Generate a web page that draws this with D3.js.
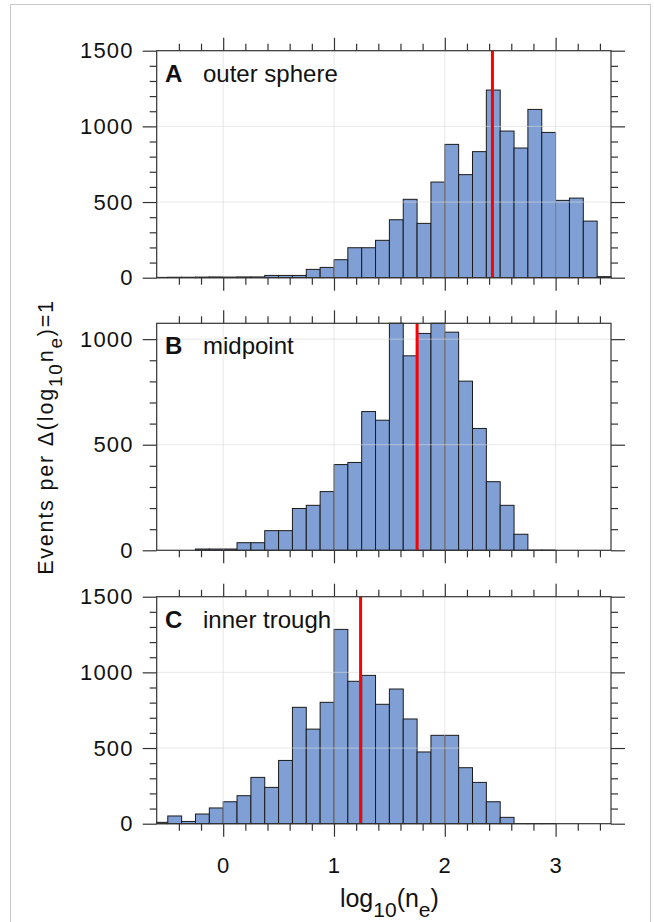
<!DOCTYPE html>
<html>
<head>
<meta charset="utf-8">
<title>Electron density histograms</title>
<script src="https://cdn.jsdelivr.net/npm/d3@7"></script>
<style>
  body { margin: 0; background: #fff; }
  text { font-family: "Liberation Sans", Arial, sans-serif; fill: #111; }
</style>
</head>
<body>
<div id="container"></div>
<script>
  // Histogram bins: 0.125 wide in log10(ne), first bin starts at -0.625
  const binStart = -0.625;
  const binWidth = 0.125;

  const countsA = [2, 3, 3, 4, 5, 4, 5, 5, 15, 15, 15, 55, 68, 119, 198, 198, 247,
    383, 518, 359, 632, 881, 681, 833, 1240, 969, 857, 1112, 960, 511, 526, 374, 7];
  const countsB = [0, 0, 0, 6, 6, 6, 36, 36, 93, 93, 198, 213, 278, 406, 416, 657, 616,
    1150, 921, 1027, 1120, 1033, 801, 577, 325, 213, 76, 1, 1, 0, 0, 0, 0];
  const countsC = [9, 51, 15, 64, 104, 145, 185, 306, 240, 418, 769, 625, 802, 1284, 941, 980, 789,
    890, 692, 474, 584, 584, 370, 273, 145, 42, 1, 1, 1, 0, 0, 0, 0];

  const panelLetters = ["A", "B", "C"];
  const panelNames = ["outer sphere", "midpoint", "inner trough"];
  const medians = [2.43, 1.75, 1.24];
  const yMaxes = [1500, 1075, 1500];
  const yMajor = [[0, 500, 1000, 1500], [0, 500, 1000], [0, 500, 1000, 1500]];
  const xMajor = [0, 1, 2, 3];
  const xMinor = [-0.4, -0.2, 0.2, 0.4, 0.6, 0.8, 1.2, 1.4, 1.6, 1.8, 2.2, 2.4, 2.6, 2.8, 3.2, 3.4];

  const allCounts = [countsA, countsB, countsC];

  // Layout
  const width = 654;
  const height = 922;
  const marginLeft = 156.7;
  const marginRight = 611;
  const panelTops = [50.7, 323.3, 596.7];
  const panelHeight = 227;

  const svg = d3.create("svg")
      .attr("width", width)
      .attr("height", height);

  // Outer frame
  svg.append("rect")
      .attr("x", 10.5).attr("y", 4.5)
      .attr("width", 640).attr("height", 930)
      .attr("fill", "none")
      .attr("stroke", "#c8c8c8");

  const x = d3.scaleLinear()
      .domain([-0.6, 3.5])
      .range([marginLeft, marginRight])
      .clamp(true);

  allCounts.forEach((counts, p) => {
    const top = panelTops[p];
    const bottom = top + panelHeight;
    const g = svg.append("g");

    const y = d3.scaleLinear()
        .domain([0, yMaxes[p]])
        .range([bottom, top])
        .clamp(true);

    const yMinor = d3.range(0, yMaxes[p] + 1, 100).filter(v => v % 500 !== 0);

    // Bars
    g.append("g")
        .selectAll("rect")
        .data(counts)
        .join("rect")
        .attr("x", (d, i) => x(binStart + i * binWidth))
        .attr("width", (d, i) => x(binStart + (i + 1) * binWidth) - x(binStart + i * binWidth))
        .attr("y", d => y(d))
        .attr("height", d => bottom - y(d))
        .attr("fill", "#80a0d5")
        .attr("stroke", "#1a1a1a")
        .attr("stroke-width", 1);

    // Grid (drawn on top, faint)
    const grid = g.append("g")
        .attr("stroke", "#d8d8d8")
        .attr("stroke-opacity", 0.6)
        .attr("stroke-width", 1);
    grid.selectAll(".gx")
        .data(xMajor)
        .join("line")
        .attr("x1", d => x(d)).attr("x2", d => x(d))
        .attr("y1", top).attr("y2", bottom);
    grid.selectAll(".gy")
        .data(yMajor[p].filter(v => v > 0 && v < yMaxes[p]))
        .join("line")
        .attr("x1", marginLeft).attr("x2", marginRight)
        .attr("y1", d => y(d)).attr("y2", d => y(d));

    // Median line
    g.append("line")
        .attr("x1", x(medians[p])).attr("x2", x(medians[p]))
        .attr("y1", top).attr("y2", bottom)
        .attr("stroke", "#ff0000")
        .attr("stroke-width", 3);

    // Axes
    const styleAxis = sel => {
      sel.select(".domain").remove();
      sel.selectAll(".tick line").attr("stroke", "#333").attr("stroke-width", 1.2);
      sel.selectAll("text").attr("fill", "#111").attr("letter-spacing", 1.2);
    };

    g.append("g")
        .attr("transform", `translate(${marginLeft},0)`)
        .call(d3.axisLeft(y).tickValues(yMajor[p]).tickSize(14).tickPadding(9).tickFormat(d3.format("d")))
        .call(styleAxis)
        .attr("font-size", 22)
        .attr("font-family", null);
    g.append("g")
        .attr("transform", `translate(${marginLeft},0)`)
        .call(d3.axisLeft(y).tickValues(yMinor).tickSize(7).tickFormat(""))
        .call(styleAxis);
    g.append("g")
        .attr("transform", `translate(${marginRight},0)`)
        .call(d3.axisRight(y).tickValues(yMajor[p]).tickSize(14).tickFormat(""))
        .call(styleAxis);
    g.append("g")
        .attr("transform", `translate(${marginRight},0)`)
        .call(d3.axisRight(y).tickValues(yMinor).tickSize(7).tickFormat(""))
        .call(styleAxis);

    g.append("g")
        .attr("transform", `translate(0,${top})`)
        .call(d3.axisTop(x).tickValues(xMajor).tickSize(13).tickFormat(""))
        .call(styleAxis);
    g.append("g")
        .attr("transform", `translate(0,${top})`)
        .call(d3.axisTop(x).tickValues(xMinor).tickSize(7).tickFormat(""))
        .call(styleAxis);
    g.append("g")
        .attr("transform", `translate(0,${bottom})`)
        .call(d3.axisBottom(x).tickValues(xMajor).tickSize(13).tickPadding(21)
          .tickFormat(p === 2 ? d3.format("d") : ""))
        .call(styleAxis)
        .attr("font-size", 22)
        .attr("font-family", null);
    g.append("g")
        .attr("transform", `translate(0,${bottom})`)
        .call(d3.axisBottom(x).tickValues(xMinor).tickSize(7).tickFormat(""))
        .call(styleAxis);

    // Frame
    g.append("rect")
        .attr("x", marginLeft).attr("y", top)
        .attr("width", marginRight - marginLeft).attr("height", panelHeight)
        .attr("fill", "none")
        .attr("stroke", "#333")
        .attr("stroke-width", 1.2);

    // Panel label
    g.append("text")
        .attr("x", 165).attr("y", top + 31)
        .attr("font-size", 24)
        .attr("font-weight", "bold")
        .text(panelLetters[p]);
    g.append("text")
        .attr("x", 203).attr("y", top + 31)
        .attr("font-size", 24)
        .text(panelNames[p]);
  });

  // X label
  const xl = svg.append("text")
      .attr("x", x(1.5)).attr("y", 907)
      .attr("text-anchor", "middle")
      .attr("font-size", 25);
  xl.append("tspan").text("log");
  xl.append("tspan").attr("dy", 10).attr("font-size", 21).text("10");
  xl.append("tspan").attr("dy", -10).text("(n");
  xl.append("tspan").attr("dy", 10).attr("font-size", 21).text("e");
  xl.append("tspan").attr("dy", -10).text(")");

  // Y label
  const yl = svg.append("text")
      .attr("transform", `translate(53,437) rotate(-90)`)
      .attr("text-anchor", "middle")
      .attr("font-size", 21.5)
      .attr("letter-spacing", 1.8);
  yl.append("tspan").text("Events per \u0394(log");
  yl.append("tspan").attr("dy", 9).attr("font-size", 19).text("10");
  yl.append("tspan").attr("dy", -9).text("n");
  yl.append("tspan").attr("dy", 9).attr("font-size", 19).text("e");
  yl.append("tspan").attr("dy", -9).text(")=1");

  document.getElementById("container").append(svg.node());
</script>
</body>
</html>
